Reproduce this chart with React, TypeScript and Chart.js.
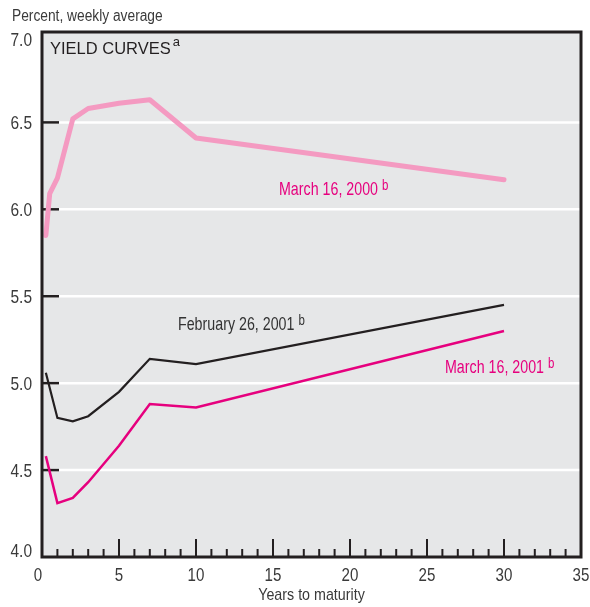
import React, { useEffect, useRef } from 'react';
import { Chart, registerables } from 'chart.js';

Chart.register(...registerables);

// ---- Data ----
const maturities2000 = [0.25, 0.5, 1, 2, 3, 5, 7, 10, 30];
const yieldsMar2000 = [5.85, 6.09, 6.18, 6.52, 6.58, 6.61, 6.63, 6.41, 6.17];
const maturities2001 = [0.25, 1, 2, 3, 5, 7, 10, 30];
const yieldsFeb2001 = [5.06, 4.80, 4.78, 4.81, 4.95, 5.14, 5.11, 5.45];
const yieldsMar2001 = [4.58, 4.31, 4.34, 4.43, 4.64, 4.88, 4.86, 5.30];
const yTickValues = [4.0, 4.5, 5.0, 5.5, 6.0, 6.5, 7.0];
const xTickValues = [0, 5, 10, 15, 20, 25, 30, 35];
const seriesNames = ['March 16, 2000', 'February 26, 2001', 'March 16, 2001'];
const titleText = 'YIELD CURVES';
const yAxisTitle = 'Percent, weekly average';
const xAxisTitle = 'Years to maturity';

const SANS = '"Liberation Sans", Arial, Helvetica, sans-serif';
const MAGENTA = '#e6007e';
const PINK = '#f49ac1';
const DARK = '#231f20';
const TEXT = '#3a3a3a';

function pairs(xs: number[], ys: number[]) {
  return xs.map((v, i) => ({ x: v, y: ys[i] }));
}

function narrowText(
  ctx: CanvasRenderingContext2D,
  t: string,
  x: number,
  y: number,
  size: number,
  sx: number,
  align: CanvasTextAlign,
  color: string
): number {
  ctx.save();
  ctx.font = `${size}px ${SANS}`;
  ctx.fillStyle = color;
  ctx.textAlign = align;
  ctx.textBaseline = 'alphabetic';
  ctx.translate(x, y);
  ctx.scale(sx, 1);
  ctx.fillText(t, 0, 0);
  const w = ctx.measureText(t).width * sx;
  ctx.restore();
  return w;
}

const decorPlugin = {
  id: 'decor',
  beforeDatasetsDraw(chart: any) {
    const { ctx, chartArea: a, scales } = chart;
    const x = scales.x;
    const y = scales.y;
    ctx.save();
    ctx.fillStyle = '#e6e7e8';
    ctx.fillRect(a.left, a.top, a.right - a.left, a.bottom - a.top);
    // white grid lines
    ctx.strokeStyle = '#ffffff';
    ctx.lineWidth = 2.5;
    for (const v of yTickValues) {
      if (v <= 4 || v >= 7) continue;
      const py = y.getPixelForValue(v);
      ctx.beginPath();
      ctx.moveTo(a.left, py);
      ctx.lineTo(a.right, py);
      ctx.stroke();
    }
    // y ticks
    ctx.strokeStyle = DARK;
    ctx.lineWidth = 2.5;
    for (const v of yTickValues) {
      if (v <= 4 || v >= 7) continue;
      const py = y.getPixelForValue(v);
      ctx.beginPath();
      ctx.moveTo(a.left, py);
      ctx.lineTo(a.left + 17, py);
      ctx.stroke();
    }
    // x ticks
    ctx.lineWidth = 2;
    for (let v = 1; v < 35; v++) {
      const px = x.getPixelForValue(v);
      const len = v % 5 === 0 ? 18 : 8;
      ctx.beginPath();
      ctx.moveTo(px, a.bottom);
      ctx.lineTo(px, a.bottom - len);
      ctx.stroke();
    }
    ctx.restore();
  },
  afterDatasetsDraw(chart: any) {
    const { ctx, chartArea: a, scales } = chart;
    const x = scales.x;
    const y = scales.y;
    ctx.save();
    // frame
    ctx.strokeStyle = DARK;
    ctx.lineWidth = 3;
    ctx.strokeRect(a.left, a.top, a.right - a.left, a.bottom - a.top);

    // y tick labels
    for (const v of yTickValues) {
      let py = y.getPixelForValue(v) + 7;
      if (v === 4) py = a.bottom;
      if (v === 7) py = 46;
      narrowText(ctx, v.toFixed(1), 32, py, 18, 0.86, 'right', TEXT);
    }
    // x tick labels
    for (const v of xTickValues) {
      let px = x.getPixelForValue(v);
      if (v === 0) px -= 4;
      narrowText(ctx, String(v), px, 581, 18, 0.84, 'center', TEXT);
    }
    // axis titles
    narrowText(ctx, xAxisTitle, (a.left + a.right) / 2, 600, 17, 0.84, 'center', TEXT);
    narrowText(ctx, yAxisTitle, 12, 21, 16, 0.86, 'left', TEXT);

    // chart title
    ctx.fillStyle = DARK;
    ctx.textAlign = 'left';
    ctx.textBaseline = 'alphabetic';
    ctx.font = '16.5px ' + SANS;
    ctx.fillText(titleText, 50, 54);
    const tw = ctx.measureText(titleText).width;
    ctx.font = '13px ' + SANS;
    ctx.fillText('a', 50 + tw + 2, 46);

    // series labels
    const lab = (t: string, lx: number, ly: number, color: string) => {
      const w = narrowText(ctx, t, lx, ly, 18.5, 0.77, 'left', color);
      narrowText(ctx, 'b', lx + w + 4, ly - 5, 14, 0.82, 'left', color);
    };
    lab(seriesNames[0], 279, 195, MAGENTA);
    lab(seriesNames[1], 178, 330, '#333333');
    lab(seriesNames[2], 445, 373, MAGENTA);
    ctx.restore();
  },
};

export default function App() {
  const ref = useRef<HTMLCanvasElement | null>(null);
  useEffect(() => {
    if (!ref.current) return;
    const chart = new Chart(ref.current, {
      type: 'line',
      data: {
        datasets: [
          {
            label: seriesNames[0],
            data: pairs(maturities2000, yieldsMar2000),
            borderColor: PINK,
            borderWidth: 5,
            borderCapStyle: 'round',
            borderJoinStyle: 'round',
            pointRadius: 0,
            tension: 0,
          },
          {
            label: seriesNames[1],
            data: pairs(maturities2001, yieldsFeb2001),
            borderColor: DARK,
            borderWidth: 2.2,
            pointRadius: 0,
            tension: 0,
          },
          {
            label: seriesNames[2],
            data: pairs(maturities2001, yieldsMar2001),
            borderColor: MAGENTA,
            borderWidth: 2.5,
            pointRadius: 0,
            tension: 0,
          },
        ],
      },
      options: {
        responsive: false,
        animation: false,
        devicePixelRatio: 1,
        layout: { padding: { left: 42, right: 9, top: 32, bottom: 50 } },
        plugins: { legend: { display: false }, tooltip: { enabled: false } },
        scales: {
          x: { type: 'linear', min: 0, max: 35, display: false },
          y: { type: 'linear', min: 4, max: 7.02, display: false },
        },
      } as any,
      plugins: [decorPlugin],
    });
    return () => chart.destroy();
  }, []);
  return (
    <div style={{ position: 'absolute', left: 0, top: 0, width: 590, height: 607, background: '#fff' }}>
      <canvas ref={ref} width={590} height={607} style={{ display: 'block' }} />
    </div>
  );
}
